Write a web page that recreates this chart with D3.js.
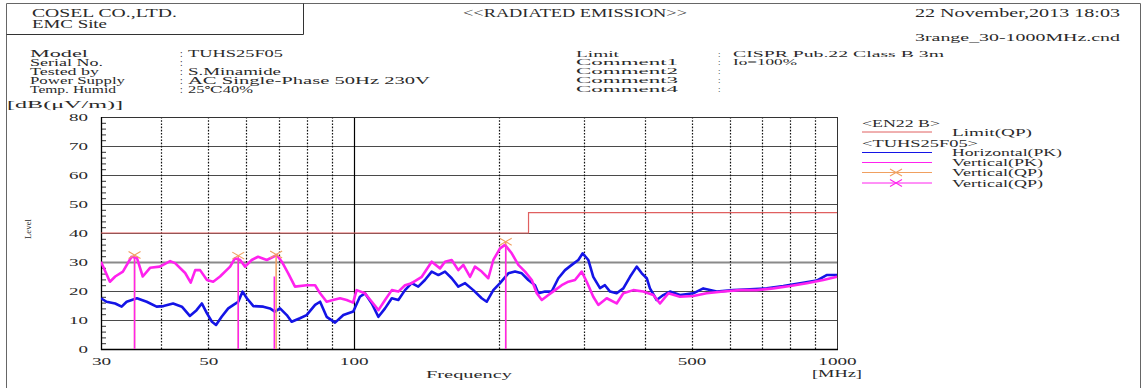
<!DOCTYPE html>
<html><head><meta charset="utf-8">
<script src="https://cdn.jsdelivr.net/npm/d3@7"></script>
<style>
body{margin:0;background:#fff}
svg{display:block}
text{font-family:"Liberation Serif","DejaVu Serif",serif;fill:#2a2a2a}
</style>
</head><body>
<svg id="c" width="1142" height="388"></svg>
<script>
// ---------- data ----------
const horizPKFreq = [30,30.8,32.1,33.1,33.9,35.6,37.3,39.1,40.4,42.3,44.1,45.8,47.3,48.5,49.7,50.9,51.9,53.3,55.0,56.4,57.7,58.9,60.1,62.0,65.0,67.1,68.7,70.4,72.7,74.4,77.4,79.9,83.2,85.2,87.9,91.5,95.2,99.8,103.0,105.5,109.0,112.5,116.1,119.9,123.7,127.7,131.8,136.0,140.4,145.0,149.7,154.5,159.5,164.6,170.0,176.8,184.0,188.5,194.5,200.8,208.9,215.7,222.7,229.8,237.2,241.0,248.8,256.8,265.1,273.7,282.6,291.6,297.7,305.8,313.1,323.3,331.0,339.1,350.0,361.3,373.0,385.1,394.5,404.0,410.2,423.5,437.1,451.3,473.3,504.2,528.8,563.8,610.2,660.7,715.4,774.2,838.6,907.7,951.8,1000];
const horizPKLevel = [17.5,16.3,15.7,14.6,16.3,17.5,16.3,14.6,14.8,15.7,14.6,11.4,13.4,15.7,12.3,9.4,8.3,11.1,14.0,15.2,16.3,19.8,17.5,14.8,14.6,14.0,12.9,14.0,11.7,9.4,10.6,11.7,15.2,16.3,11.1,9.1,11.7,12.9,18.0,19.2,15.7,11.1,14.0,17.5,16.9,20.3,22.7,21.5,23.8,26.7,25.5,26.7,24.4,21.5,22.7,20.3,17.5,16.3,20.3,22.7,26.1,26.7,26.1,23.8,22.0,19.2,19.8,19.8,24.4,27.2,29.0,30.7,33.0,30.7,24.9,21.0,22.0,19.8,19.2,20.9,24.9,28.4,26.1,24.4,20.9,16.9,18.6,19.8,18.6,19.2,20.9,19.8,20.3,20.6,20.9,21.7,22.7,23.6,25.5,25.5];

const vertPKFreq = [30,31.3,32.1,33.3,34.7,35.6,36.6,37.9,39.7,41.7,42.7,44.8,46.0,47.0,48.1,49.7,51.2,52.9,55.5,56.8,58.2,59.6,61.5,63.4,66.1,69.3,71.0,73.2,75.6,79.9,83.2,85.2,87.9,90.6,93.7,96.7,99.7,101.4,105.5,109.0,112.5,116.1,119.9,123.7,127.7,131.8,138.3,145.0,150.9,154.5,159.5,164.6,168.6,174.1,178.2,184.0,189.9,194.5,200.8,205.6,212.3,219.1,226.2,233.6,239.2,245.0,252.8,261.0,269.4,278.1,287.0,296.3,303.5,313.1,320.7,333.8,350.0,361.3,378.9,397.4,416.8,430.3,447.7,473.3,504.2,537.4,581.8,629.9,682.2,738.1,799.6,866.0,936.8,1000];
const vertPKLevel = [30.1,23.2,25.0,26.7,31.8,31.4,25.0,28.0,28.4,30.3,29.6,26.2,22.9,27.2,27.2,23.8,23.2,25.0,28.4,31.3,30.7,28.4,30.7,31.8,30.7,32.4,30.1,26.1,21.5,22.0,22.0,19.2,16.3,16.9,17.5,16.9,16.0,20.3,19.2,16.3,13.4,16.9,20.3,19.8,22.0,22.7,24.9,30.1,27.8,30.1,30.7,27.2,29.0,24.9,28.4,26.7,24.4,30.7,34.7,35.9,33.0,29.0,26.7,23.8,19.2,16.9,18.6,20.3,22.0,23.2,23.8,26.7,23.2,18.0,15.2,17.5,15.7,19.2,20.3,19.8,18.6,15.7,19.2,18.0,18.3,19.2,19.8,20.3,20.3,20.9,21.7,22.7,23.8,24.9];

const limitFreq  = [30, 230, 230, 1000];
const limitLevel = [40, 40, 47, 47];

const qpOrangeFreq  = [35.2, 57.7, 69.1, 206.3];
const qpOrangeLevel = [32.4, 32.2, 32.6, 37.0];
const qpVertFreq    = [35.2, 57.7, 68.5, 206.3];
const qpVertLevel   = [31.8, 31.6, 25.0, 36.0];

const yTickValues = [0,10,20,30,40,50,60,70,80];
const yMinorTicks = [2,4,6,8,12,14,16,18,22,24,26,28,32,34,36,38,42,44,46,48,52,54,56,58,62,64,66,68,72,74,76,78];
const xTickLabels = [30,50,100,500,1000];
const xDottedGrid = [40,50,60,70,80,90,200,300,400,500,600,700,800,900];
const xSolidGrid = [100];

const legendItems = ["Limit(QP)","Horizontal(PK)","Vertical(PK)","Vertical(QP)","Vertical(QP)"];

// ---------- layout ----------
const svg = d3.select("#c");
const L = 101, R = 837, T = 117, B = 349;
const x = d3.scaleLog().domain([30,1000]).range([L,R]);
const y = d3.scaleLinear().domain([0,80]).range([B,T]);

const C = {blue:"#1414e6", mag:"#ff22ee", limit:"#e06060", orange:"#f0a060", grid:"#4a4a4a"};

function txt(s, px, py, size, len, anchor, g){
  const t = (g||svg).append("text").attr("x",px).attr("y",py)
    .attr("font-size",size).attr("text-anchor",anchor||"start").text(s);
  if(len){ t.attr("textLength",len).attr("lengthAdjust","spacingAndGlyphs"); }
  return t;
}

// outer frame + header box
svg.append("path").attr("d","M6.5,388 V3.5 H1140.5 V388").attr("fill","none").attr("stroke","#666").attr("stroke-width",1);
svg.append("path").attr("d","M6.5,34.5 H303.5 V3.5").attr("fill","none").attr("stroke","#333").attr("stroke-width",1);

txt("COSEL CO.,LTD.", 32, 17, 11.5, 145);
txt("EMC Site", 32, 28, 11.5, 75);
txt("<<RADIATED EMISSION>>", 463, 17, 11.5, 224);
txt("22 November,2013 18:03", 915, 17, 11.5, 205);
txt("3range_30-1000MHz.cnd", 915, 41, 11, 205);

const leftLabels = ["Model","Serial No.","Tested by","Power Supply","Temp. Humid"];
const leftLens = [58,73,69,95,86];
const leftVals = ["TUHS25F05","","S.Minamide","AC Single-Phase 50Hz 230V","25℃40%"];
const leftValLens = [95,0,93,242,65];
leftLabels.forEach((s,i)=>{
  const by = 56.5 + i*9;
  txt(s, 30, by, 9.5, leftLens[i]);
  txt(":", 180, by, 9.5);
  if(leftVals[i]) txt(leftVals[i], 188, by, 9.5, leftValLens[i]);
});
const rightLabels = ["Limit","Comment1","Comment2","Comment3","Comment4"];
const rightLens = [43,102,102,102,102];
const rightVals = ["CISPR Pub.22 Class B 3m","Io=100%","","",""];
const rightValLens = [211,64,0,0,0];
rightLabels.forEach((s,i)=>{
  const by = 56.5 + i*8.8;
  txt(s, 576, by, 9, rightLens[i]);
  txt(":", 718, by, 9);
  if(rightVals[i]) txt(rightVals[i], 733, by, 9, rightValLens[i]);
});

txt("[dB(μV/m)]", 7, 108, 10.5, 116);

// ---------- grid ----------
const grid = svg.append("g");
yTickValues.forEach(v=>{
  grid.append("line").attr("x1",L).attr("x2",R).attr("y1",y(v)+0.5).attr("y2",y(v)+0.5)
    .attr("stroke", v===30 ? "#8a8a8a" : C.grid).attr("stroke-width", v===30 ? 1.8 : 1);
});
xDottedGrid.forEach(f=>{
  grid.append("line").attr("x1",Math.round(x(f))+0.5).attr("x2",Math.round(x(f))+0.5).attr("y1",T).attr("y2",B)
    .attr("stroke","#111").attr("stroke-width",1.2).attr("stroke-dasharray","1.6 1.6");
});
xSolidGrid.forEach(f=>{
  grid.append("line").attr("x1",Math.round(x(f))+0.5).attr("x2",Math.round(x(f))+0.5).attr("y1",T).attr("y2",B)
    .attr("stroke","#000").attr("stroke-width",1.2);
});
yMinorTicks.forEach(v=>{
  grid.append("line").attr("x1",L).attr("x2",L+5).attr("y1",y(v)+0.5).attr("y2",y(v)+0.5)
    .attr("stroke","#333").attr("stroke-width",1);
});
svg.append("rect").attr("x",L+0.5).attr("y",T+0.5).attr("width",R-L).attr("height",B-T)
  .attr("fill","none").attr("stroke","#333").attr("stroke-width",1);
svg.append("line").attr("x1",L+0.5).attr("x2",L+0.5).attr("y1",T).attr("y2",B+1).attr("stroke","#000").attr("stroke-width",1.3);
svg.append("line").attr("x1",L).attr("x2",R+1).attr("y1",B+0.5).attr("y2",B+0.5).attr("stroke","#000").attr("stroke-width",1.3);

// ---------- axes labels ----------
const yAx = svg.append("g").attr("transform",`translate(${L},0)`)
  .call(d3.axisLeft(y).tickValues(yTickValues).tickSize(0).tickPadding(13));
yAx.select(".domain").remove();
yAx.selectAll("text").attr("font-family",'"Liberation Serif",serif').attr("font-size",10.5).attr("fill","#2a2a2a")
  .attr("dy","0.36em").attr("x",-13)
  .each(function(d){ const n=String(d).length; d3.select(this).attr("textLength",n*9.5).attr("lengthAdjust","spacingAndGlyphs"); });

const xAx = svg.append("g").attr("transform",`translate(0,${B})`)
  .call(d3.axisBottom(x).tickValues(xTickLabels).tickFormat(d3.format("d")).tickSize(0).tickPadding(4));
xAx.select(".domain").remove();
xAx.selectAll("text").attr("font-family",'"Liberation Serif",serif').attr("font-size",10.5).attr("fill","#2a2a2a")
  .attr("y",16).attr("dy",0)
  .each(function(d){ const n=String(d).length; d3.select(this).attr("textLength",n*9.6).attr("lengthAdjust","spacingAndGlyphs"); });

txt("Frequency", 426, 378, 10.5, 86);
txt("[MHz]", 812, 377, 10.5, 50);
txt("Level", 0, 0, 9, 20, "middle").attr("transform","translate(31,229) rotate(-90)");

// ---------- series ----------
svg.append("clipPath").attr("id","pc").append("rect").attr("x",L).attr("y",T).attr("width",R-L+1).attr("height",B-T);
const plot = svg.append("g").attr("clip-path","url(#pc)");
const lineGen = d3.line().x(d=>x(d[0])).y(d=>y(d[1]));

plot.append("path").datum(limitFreq.map((f,i)=>[f,limitLevel[i]]))
  .attr("d",lineGen).attr("fill","none").attr("stroke",C.limit).attr("stroke-width",1.2);

plot.append("path").datum(horizPKFreq.map((f,i)=>[f,horizPKLevel[i]]))
  .attr("d",lineGen).attr("fill","none").attr("stroke",C.blue).attr("stroke-width",2.6).attr("stroke-linejoin","round");
plot.append("path").datum(vertPKFreq.map((f,i)=>[f,vertPKLevel[i]]))
  .attr("d",lineGen).attr("fill","none").attr("stroke",C.mag).attr("stroke-width",2.6).attr("stroke-linejoin","round");

function cross(g, cx, cy, col){
  g.append("path").attr("d",`M${cx-6},${cy-3.5} L${cx+6},${cy+3.5} M${cx-6},${cy+3.5} L${cx+6},${cy-3.5}`)
    .attr("stroke",col).attr("stroke-width",1.1).attr("fill","none");
}
qpOrangeFreq.forEach((f,i)=>{
  plot.append("line").attr("x1",x(f)).attr("x2",x(f)).attr("y1",y(0)).attr("y2",y(qpOrangeLevel[i]))
    .attr("stroke",C.orange).attr("stroke-width",1.5);
  cross(plot, x(f), y(qpOrangeLevel[i]), C.orange);
});
qpVertFreq.forEach((f,i)=>{
  plot.append("line").attr("x1",x(f)).attr("x2",x(f)).attr("y1",y(0)).attr("y2",y(qpVertLevel[i]))
    .attr("stroke",C.mag).attr("stroke-width",1.5);
});

// ---------- legend ----------
const lg = svg.append("g");
txt("<EN22 B>", 862, 127, 10.5, 78, "start", lg);
txt("<TUHS25F05>", 862, 146.5, 10.5, 116, "start", lg);
const legY = [132, 152.5, 162.5, 172.5, 183];
const legCol = [C.limit, C.blue, C.mag, C.orange, C.mag];
const legLen = [80,110,91,91,91];
legendItems.forEach((s,i)=>{
  lg.append("line").attr("x1",862).attr("x2",932).attr("y1",legY[i]).attr("y2",legY[i])
    .attr("stroke",legCol[i]).attr("stroke-width",1);
  if(i>=3) cross(lg, 896, legY[i], legCol[i]);
  txt(s, 952, legY[i]+3.5, 10.5, legLen[i], "start", lg);
});
</script>
</body></html>
